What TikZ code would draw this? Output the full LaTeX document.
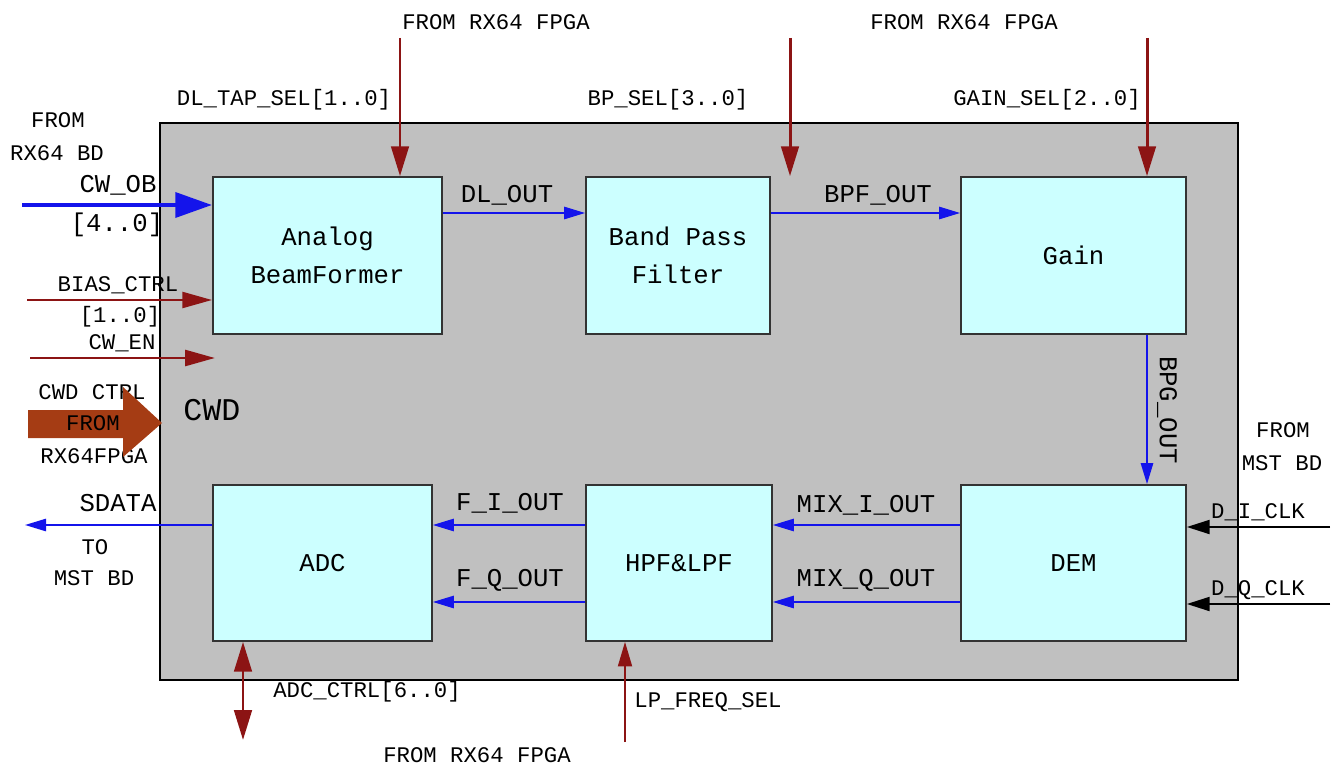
\documentclass[tikz,border=0pt]{standalone}
\usepackage{fontspec}
\setmainfont{Liberation Mono}
\usetikzlibrary{arrows.meta,calc}
\definecolor{cwdgray}{RGB}{192,192,192}
\definecolor{boxcyan}{RGB}{204,255,255}
\definecolor{ctlred}{RGB}{140,20,20}
\definecolor{sigblue}{RGB}{20,20,235}
\definecolor{cwdbrown}{RGB}{165,60,20}

\begin{document}
\begin{tikzpicture}[x=0.02cm, y=-0.02cm,
    blk/.style={draw=black!80, line width=1pt, fill=boxcyan, align=center, inner sep=0pt,
        font=\fontsize{14.6}{21.5}\selectfont},
    sig/.style={draw=sigblue, line width=1.1pt, -{Triangle[length=12pt,width=7pt]}},
    ctl/.style={draw=ctlred, line width=1.7pt, -{Triangle[length=17pt,width=10pt]}},
    clk/.style={draw=black, line width=1.1pt, -{Triangle[length=13pt,width=8pt]}},
    lbl/.style={font=\fontsize{12.7}{15}\selectfont, inner sep=0pt},
    slbl/.style={font=\fontsize{14.6}{17}\selectfont, inner sep=0pt}]

    \useasboundingbox (0,0) rectangle (1332,770);
    % CWD board
    \draw [fill=cwdgray, line width=1pt] (160,123) rectangle (1238,680);
    \node [font=\fontsize{18}{20}\selectfont, anchor=west, inner sep=0pt] (cwd) at (183,410) {CWD};

    % Blocks
    \node [blk, minimum width=4.58cm, minimum height=3.14cm] (abf) at (327.5,255.5) {Analog\\BeamFormer};
    \node [blk, minimum width=3.68cm, minimum height=3.14cm] (bpf) at (678,255.5) {Band Pass\\Filter};
    \node [blk, minimum width=4.5cm, minimum height=3.14cm] (gain) at (1073.5,255.5) {Gain};
    \node [blk, minimum width=4.38cm, minimum height=3.12cm] (adc) at (322.5,563) {ADC};
    \node [blk, minimum width=3.72cm, minimum height=3.12cm] (hpf) at (679,563) {HPF\&LPF};
    \node [blk, minimum width=4.5cm, minimum height=3.12cm] (dem) at (1073.5,563) {DEM};

    % Signal path
    \coordinate (rowa) at (0,213);
    \coordinate (rowi) at (0,525);
    \coordinate (rowq) at (0,602);
    \draw [sig] (abf.east |- rowa) -- (bpf.west |- rowa);
    \node [slbl] (dlout) at (507,195) {DL\_OUT};
    \draw [sig] (bpf.east |- rowa) -- (gain.west |- rowa);
    \node [slbl] (bpfout) at (878,195) {BPF\_OUT};
    \coordinate (colg) at (1147,0);
    \draw [sig] (gain.south -| colg) -- (dem.north -| colg);
    \node [slbl, rotate=-90] (bpgout) at (1167,410) {BPG\_OUT};
    \draw [sig] (dem.west |- rowi) -- (hpf.east |- rowi);
    \node [slbl] (mixi) at (866,505) {MIX\_I\_OUT};
    \draw [sig] (dem.west |- rowq) -- (hpf.east |- rowq);
    \node [slbl] (mixq) at (866,580) {MIX\_Q\_OUT};
    \draw [sig] (hpf.west |- rowi) -- (adc.east |- rowi);
    \node [slbl] (fiout) at (510,503) {F\_I\_OUT};
    \draw [sig] (hpf.west |- rowq) -- (adc.east |- rowq);
    \node [slbl] (fqout) at (510,580) {F\_Q\_OUT};
    \coordinate (sdend) at (25,525);
    \draw [sig] (adc.west |- rowi) -- (sdend);
    \node [slbl] (sdata) at (118,503) {SDATA};
    \node [lbl] (to) at (95,547) {TO};
    \node [lbl] (tomst) at (94,578) {MST BD};

    % Controls from RX64 FPGA
    \coordinate (tapin) at (400,38);
    \coordinate (bpin) at (790,38);
    \coordinate (gainin) at (1147,38);
    \draw [ctl] (tapin) -- (tapin |- abf.north);
    \draw [ctl] (bpin) -- (bpin |- bpf.north);
    \draw [ctl] (gainin) -- (gainin |- gain.north);
    \node [lbl] (fpgaa) at (496,22) {FROM RX64 FPGA};
    \node [lbl] (fpgab) at (964,22) {FROM RX64 FPGA};
    \node [lbl] (tapsel) at (284,100) {DL\_TAP\_SEL[1..0]};
    \node [lbl] (bpsel) at (668,100) {BP\_SEL[3..0]};
    \node [lbl] (gainsel) at (1047,100) {GAIN\_SEL[2..0]};

    % Inputs from RX64 BD
    \coordinate (cwobin) at (22,205);
    \coordinate (biasin) at (27,300);
    \coordinate (enin) at (30,358);
    \coordinate (enend) at (215,358);
    \draw [draw=sigblue, line width=2.8pt, -{Triangle[length=21pt,width=14pt]}] (cwobin) -- (abf.west |- cwobin);
    \draw [ctl, -{Triangle[length=17pt,width=9pt]}] (biasin) -- (abf.west |- biasin);
    \draw [ctl, -{Triangle[length=17pt,width=9pt]}] (enin) -- (enend);
    \node [lbl] (rxfrom) at (58,120) {FROM};
    \node [lbl] (rxbd) at (57,153) {RX64 BD};
    \node [slbl] (cwob) at (118,185) {CW\_OB};
    \node [slbl] (cwobw) at (117,225) {[4..0]};
    \node [lbl] (bias) at (118,285) {BIAS\_CTRL};
    \node [lbl] (biasw) at (120,317) {[1..0]};
    \node [lbl] (cwen) at (122,343) {CW\_EN};

    % CWD CTRL block arrow
    \node [lbl] (cwdctrl) at (92,392) {CWD CTRL};
    \node [lbl] (ctrlfpga) at (94,456) {RX64FPGA};
    \fill [cwdbrown] (28,410) -- (123,410) -- (123,387) -- (162,423) -- (123,457) -- (123,438) -- (28,438) -- cycle;
    \node [lbl] (ctrlfrom) at (93,423) {FROM};

    % Clocks from MST BD
    \coordinate (diin) at (1330,527);
    \coordinate (dqin) at (1330,604);
    \draw [clk] (diin) -- (dem.east |- diin);
    \draw [clk] (dqin) -- (dem.east |- dqin);
    \node [lbl] (mstfrom) at (1283,430) {FROM};
    \node [lbl] (mstbd) at (1282,463) {MST BD};
    \node [lbl] (diclk) at (1258,512) {D\_I\_CLK};
    \node [lbl] (dqclk) at (1258,590) {D\_Q\_CLK};

    % Bottom controls
    \coordinate (adcend) at (243,740);
    \coordinate (lpin) at (625,742);
    \draw [ctl, {Triangle[length=17pt,width=10pt]}-{Triangle[length=17pt,width=10pt]}] (adc.south -| adcend) -- (adcend);
    \draw [ctl, line width=1pt, -{Triangle[length=14pt,width=8pt]}] (lpin) -- (hpf.south -| lpin);
    \node [lbl] (adcctrl) at (367,692) {ADC\_CTRL[6..0]};
    \node [lbl] (lpsel) at (708,702) {LP\_FREQ\_SEL};
    \node [lbl] (fpgac) at (477,755) {FROM RX64 FPGA};
\end{tikzpicture}
\end{document}
